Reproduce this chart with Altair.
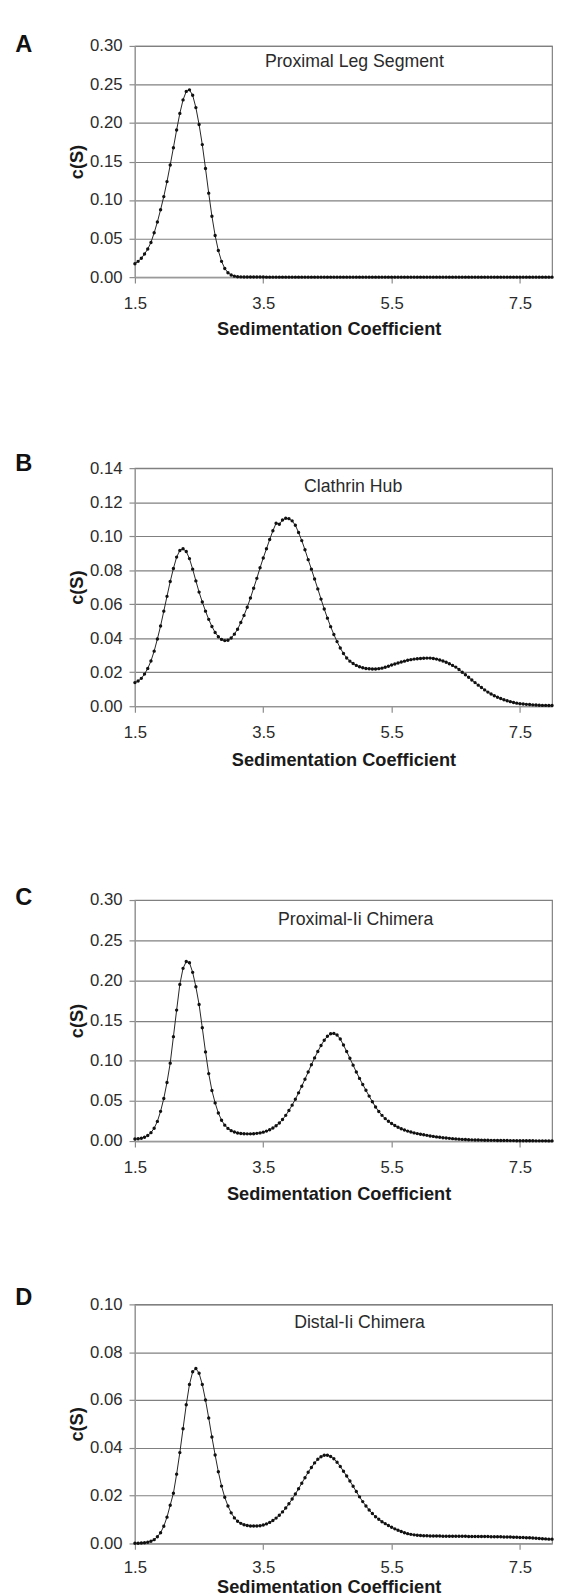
import altair as alt
import pandas as pd

# sedimentation coefficient grid (S) shared by all four panels
S_GRID = [
    1.50, 1.55, 1.60, 1.65, 1.70, 1.75, 1.80, 1.85, 1.90, 1.95,
    2.00, 2.05, 2.10, 2.15, 2.20, 2.25, 2.30, 2.35, 2.40, 2.45,
    2.50, 2.55, 2.60, 2.65, 2.70, 2.75, 2.80, 2.85, 2.90, 2.95,
    3.00, 3.05, 3.10, 3.15, 3.20, 3.25, 3.30, 3.35, 3.40, 3.45,
    3.50, 3.55, 3.60, 3.65, 3.70, 3.75, 3.80, 3.85, 3.90, 3.95,
    4.00, 4.05, 4.10, 4.15, 4.20, 4.25, 4.30, 4.35, 4.40, 4.45,
    4.50, 4.55, 4.60, 4.65, 4.70, 4.75, 4.80, 4.85, 4.90, 4.95,
    5.00, 5.05, 5.10, 5.15, 5.20, 5.25, 5.30, 5.35, 5.40, 5.45,
    5.50, 5.55, 5.60, 5.65, 5.70, 5.75, 5.80, 5.85, 5.90, 5.95,
    6.00, 6.05, 6.10, 6.15, 6.20, 6.25, 6.30, 6.35, 6.40, 6.45,
    6.50, 6.55, 6.60, 6.65, 6.70, 6.75, 6.80, 6.85, 6.90, 6.95,
    7.00, 7.05, 7.10, 7.15, 7.20, 7.25, 7.30, 7.35, 7.40, 7.45,
    7.50, 7.55, 7.60, 7.65, 7.70, 7.75, 7.80, 7.85, 7.90, 7.95,
    8.00,
]

# A: Proximal Leg Segment
A_CS = [
    0.0174, 0.0205, 0.0245, 0.0300, 0.0365, 0.0450, 0.0575, 0.0715, 0.0875, 0.1045,
    0.1240, 0.1455, 0.1680, 0.1910, 0.2125, 0.2300, 0.2410, 0.2430, 0.2360, 0.2200,
    0.1980, 0.1720, 0.1410, 0.1090, 0.0790, 0.0540, 0.0345, 0.0205, 0.0112, 0.0058,
    0.0028, 0.0013, 0.0006, 0.0003, 0.0002, 0.0001, 0.0001, 0.0001, 0.0001, 0.0001,
    0.0001, 0.0, 0.0, 0.0, 0.0, 0.0, 0.0, 0.0, 0.0, 0.0,
    0.0, 0.0, 0.0, 0.0, 0.0, 0.0, 0.0, 0.0, 0.0, 0.0,
    0.0, 0.0, 0.0, 0.0, 0.0, 0.0, 0.0, 0.0, 0.0, 0.0,
    0.0, 0.0, 0.0, 0.0, 0.0, 0.0, 0.0, 0.0, 0.0, 0.0,
    0.0, 0.0, 0.0, 0.0, 0.0, 0.0, 0.0, 0.0, 0.0, 0.0,
    0.0, 0.0, 0.0, 0.0, 0.0, 0.0, 0.0, 0.0, 0.0, 0.0,
    0.0, 0.0, 0.0, 0.0, 0.0, 0.0, 0.0, 0.0, 0.0, 0.0,
    0.0, 0.0, 0.0, 0.0, 0.0, 0.0, 0.0, 0.0, 0.0, 0.0,
    0.0, 0.0, 0.0, 0.0, 0.0, 0.0, 0.0, 0.0, 0.0, 0.0,
    0.0,
]

# B: Clathrin Hub
B_CS = [
    0.0139, 0.0148, 0.0164, 0.0189, 0.0222, 0.0266, 0.0324, 0.0395, 0.0472, 0.0559,
    0.0646, 0.0733, 0.0810, 0.0877, 0.0916, 0.0926, 0.0910, 0.0868, 0.0806, 0.0737,
    0.0671, 0.0613, 0.0559, 0.0511, 0.0469, 0.0434, 0.0409, 0.0393, 0.0386, 0.0388,
    0.0401, 0.0424, 0.0453, 0.0492, 0.0534, 0.0582, 0.0636, 0.0694, 0.0752, 0.0814,
    0.0872, 0.0926, 0.0980, 0.1032, 0.1076, 0.1070, 0.1095, 0.1105, 0.1103, 0.1090,
    0.1064, 0.1022, 0.0974, 0.0920, 0.0862, 0.0806, 0.0748, 0.0690, 0.0630, 0.0572,
    0.0518, 0.0468, 0.0422, 0.0380, 0.0342, 0.0310, 0.0284, 0.0265, 0.0251, 0.0240,
    0.0232, 0.0226, 0.0222, 0.0220, 0.0219, 0.0219, 0.0221, 0.0224, 0.0229, 0.0235,
    0.0242, 0.0248, 0.0254, 0.0260, 0.0265, 0.0270, 0.0274, 0.0277, 0.0279, 0.0281,
    0.0282, 0.0283, 0.0283, 0.0281, 0.0277, 0.0272, 0.0266, 0.0259, 0.0250, 0.0240,
    0.0230, 0.0216, 0.0200, 0.0185, 0.0170, 0.0154, 0.0139, 0.0124, 0.0110, 0.0096,
    0.0083, 0.0072, 0.0062, 0.0053, 0.0045, 0.0038, 0.0032, 0.0027, 0.0022, 0.0018,
    0.0015, 0.0013, 0.0011, 0.0010, 0.0008, 0.0007, 0.0006, 0.0005, 0.0005, 0.0004,
    0.0004,
]

# C: Proximal-Ii Chimera
C_CS = [
    0.0025, 0.0028, 0.0035, 0.0048, 0.0070, 0.0105, 0.0160, 0.0245, 0.0370, 0.0530,
    0.0730, 0.0970, 0.1300, 0.1630, 0.1950, 0.2150, 0.2235, 0.2220, 0.2100, 0.1920,
    0.1700, 0.1410, 0.1110, 0.0840, 0.0630, 0.0475, 0.0350, 0.0260, 0.0198, 0.0158,
    0.0130, 0.0112, 0.0101, 0.0095, 0.0091, 0.0090, 0.0090, 0.0092, 0.0096, 0.0102,
    0.0111, 0.0124, 0.0140, 0.0162, 0.0190, 0.0225, 0.0268, 0.0320, 0.0380, 0.0447,
    0.0520, 0.0600, 0.0683, 0.0770, 0.0860, 0.0950, 0.1035, 0.1115, 0.1190, 0.1255,
    0.1305, 0.1335, 0.1340, 0.1320, 0.1270, 0.1195, 0.1115, 0.1030, 0.0945, 0.0860,
    0.0780, 0.0705, 0.0632, 0.0560, 0.0490, 0.0425, 0.0368, 0.0320, 0.0280, 0.0246,
    0.0218, 0.0193, 0.0172, 0.0153, 0.0137, 0.0124, 0.0112, 0.0102, 0.0093, 0.0085,
    0.0078, 0.0071, 0.0064, 0.0058, 0.0052, 0.0047, 0.0042, 0.0038, 0.0034, 0.0030,
    0.0027, 0.0024, 0.0021, 0.0019, 0.0017, 0.0015, 0.0014, 0.0013, 0.0012, 0.0011,
    0.0010, 0.0009, 0.0009, 0.0008, 0.0008, 0.0007, 0.0007, 0.0006, 0.0006, 0.0005,
    0.0005, 0.0005, 0.0004, 0.0004, 0.0004, 0.0003, 0.0003, 0.0003, 0.0003, 0.0002,
    0.0002,
]

# D: Distal-Ii Chimera
D_CS = [
    0.0001, 0.0001, 0.0002, 0.0003, 0.0005, 0.0009, 0.0016, 0.0028, 0.0045, 0.0072,
    0.0110, 0.0160, 0.0210, 0.0290, 0.0380, 0.0480, 0.0580, 0.0665, 0.0718, 0.0732,
    0.0712, 0.0665, 0.0600, 0.0525, 0.0445, 0.0370, 0.0300, 0.0240, 0.0193, 0.0157,
    0.0128, 0.0107, 0.0093, 0.0084, 0.0078, 0.0075, 0.0073, 0.0073, 0.0073, 0.0074,
    0.0077, 0.0082, 0.0088, 0.0096, 0.0106, 0.0118, 0.0132, 0.0148, 0.0166, 0.0186,
    0.0207, 0.0229, 0.0252, 0.0275, 0.0298, 0.0318, 0.0337, 0.0352, 0.0363, 0.0369,
    0.0369, 0.0364, 0.0354, 0.0340, 0.0322, 0.0302, 0.0282, 0.0261, 0.0239, 0.0217,
    0.0195, 0.0175, 0.0157, 0.0140, 0.0125, 0.0112, 0.0101, 0.0091, 0.0083, 0.0075,
    0.0068, 0.0061, 0.0055, 0.0050, 0.0045, 0.0041, 0.0038, 0.0036, 0.0034, 0.0033,
    0.0032, 0.0032, 0.0031, 0.0031, 0.0031, 0.0031, 0.0030, 0.0030, 0.0030, 0.0030,
    0.0030, 0.0030, 0.0030, 0.0030, 0.0029, 0.0029, 0.0029, 0.0029, 0.0029, 0.0029,
    0.0029, 0.0028, 0.0028, 0.0028, 0.0028, 0.0027, 0.0027, 0.0027, 0.0026, 0.0026,
    0.0025, 0.0025, 0.0024, 0.0024, 0.0023, 0.0022, 0.0021, 0.0020, 0.0019, 0.0018,
    0.0018,
]

LETTERS = ["A", "B", "C", "D"]
NAMES = ["Proximal Leg Segment", "Clathrin Hub", "Proximal-Ii Chimera", "Distal-Ii Chimera"]
SERIES = [A_CS, B_CS, C_CS, D_CS]
Y_MAX = [0.30, 0.14, 0.30, 0.10]
Y_TICKS = [
    [0.00, 0.05, 0.10, 0.15, 0.20, 0.25, 0.30],
    [0.00, 0.02, 0.04, 0.06, 0.08, 0.10, 0.12, 0.14],
    [0.00, 0.05, 0.10, 0.15, 0.20, 0.25, 0.30],
    [0.00, 0.02, 0.04, 0.06, 0.08, 0.10],
]
X_TICKS = [1.5, 3.5, 5.5, 7.5]
X_DOMAIN = [1.5, 8.0]
NAME_AT = [4.92, 4.90, 4.94, 5.00]

# layout (pixels)
W = 424
HEIGHTS = [235, 242, 245, 243]
LETTER_Y = [-0.6, -4.6, -1.6, -6.6]
NAME_Y = [16, 19, 20.5, 19.5]
XLABEL_PAD = [12.7, 12.7, 12.7, 10.5]
XTITLE_X = [197, 212, 207, 197]
XTITLE_Y = [52, 54, 53, 43.5]

FONT = "Liberation Sans"
INK = "#1a1a1a"
GRID = "#808080"


def panel(i):
    df = pd.DataFrame({"s": S_GRID, "c": SERIES[i]})
    h = HEIGHTS[i]
    x = alt.X(
        "s:Q",
        scale=alt.Scale(domain=X_DOMAIN, nice=False, zero=False),
        axis=alt.Axis(
            values=X_TICKS, format=".1f", title="Sedimentation Coefficient",
            grid=False, ticks=True, tickSize=6, labelPadding=XLABEL_PAD[i],
            labelFlush=False, titleX=XTITLE_X[i], titleY=XTITLE_Y[i],
            titleBaseline="middle",
        ),
    )
    y = alt.Y(
        "c:Q",
        scale=alt.Scale(domain=[0, Y_MAX[i]], nice=False),
        axis=alt.Axis(
            values=Y_TICKS[i], format=".2f", title="c(S)", grid=True,
            tickSize=6, labelPadding=7, labelFlush=False,
            titleX=-59, titleY=h / 2, titleBaseline="middle", titleAngle=270,
        ),
    )
    base = alt.Chart(df)
    line = base.mark_line(color="#222222", strokeWidth=1).encode(x=x, y=y)
    pts = base.mark_point(filled=True, shape="circle", size=12, color="#111111",
                          opacity=1).encode(x=x, y=y)
    name = alt.Chart(pd.DataFrame({"t": [NAMES[i]]})).mark_text(
        font=FONT, fontSize=18, color="#2a2a2a", baseline="middle", align="center"
    ).encode(x=alt.datum(NAME_AT[i]), y=alt.value(NAME_Y[i]), text="t:N")
    letter = alt.Chart(pd.DataFrame({"t": [LETTERS[i]]})).mark_text(
        font=FONT, fontSize=24, fontWeight="bold", color="#111111",
        baseline="middle", align="center"
    ).encode(x=alt.value(-113), y=alt.value(LETTER_Y[i]), text="t:N")
    return alt.layer(line, pts, name, letter).properties(width=W, height=h)


pA, pB, pC, pD = [panel(i) for i in range(4)]

ab = alt.vconcat(pA, pB, spacing=113.15)
abc = alt.vconcat(ab, pC, spacing=117.15)
chart = alt.vconcat(abc, pD, spacing=82.15).properties(
    padding={"top": 11.4, "left": 6, "right": 0, "bottom": 0},
    background="white",
).configure_view(
    stroke=GRID, strokeWidth=1.2
).configure_axis(
    labelFont=FONT, labelFontSize=17, labelColor="#2b2b2b",
    titleFont=FONT, titleFontSize=18.5, titleFontWeight="bold", titleColor=INK,
    domainColor="#9a9a9a", domainWidth=1.2, tickColor="#8a8a8a", tickWidth=1.2,
    gridColor=GRID, gridWidth=1.2, gridOpacity=1,
)

chart.save("out.html", embed_options={"renderer": "svg", "actions": False})
